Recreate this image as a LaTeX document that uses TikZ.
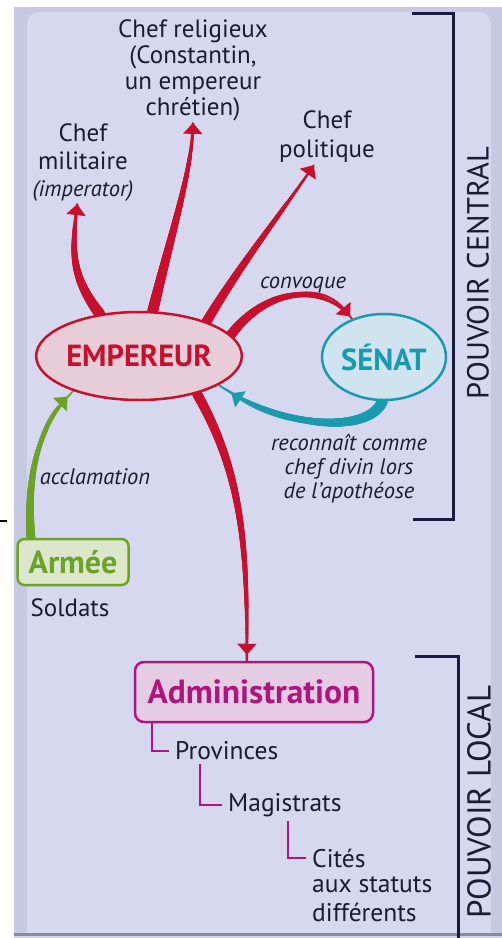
\documentclass[tikz,border=0pt]{standalone}
\usepackage{fontspec}
\setmainfont{PT Sans}
\usetikzlibrary{arrows.meta,decorations.markings,calc,shapes.geometric}

\definecolor{cardband}{HTML}{C6C9E2}
\definecolor{cardin}{HTML}{D5D8EE}
\definecolor{ink}{HTML}{1C1C30}
\definecolor{empred}{HTML}{C8102E}
\definecolor{empfill}{HTML}{E6CDD8}
\definecolor{senteal}{HTML}{1A9AAE}
\definecolor{senfill}{HTML}{CFE4EE}
\definecolor{armgreen}{HTML}{6BA229}
\definecolor{armfill}{HTML}{DCE6CB}
\definecolor{admmag}{HTML}{B0157E}
\definecolor{admfill}{HTML}{E4CCE3}
\definecolor{bracketcol}{HTML}{1A1A40}
\definecolor{edgedark}{HTML}{8A8AA0}
\definecolor{edgelight}{HTML}{D4D4DC}

\pgfdeclarelayer{cardlayer}
\pgfdeclarelayer{edgelayer}
\pgfsetlayers{cardlayer,edgelayer,main}

\tikzset{
  taper/.style n args={3}{postaction={decorate,decoration={markings,
    mark=between positions 0 and 1 step 0.7pt with {
      \pgfmathsetmacro\tprad{0.5*(#1-(#1-#2)*\pgfkeysvalueof{/pgf/decoration/mark info/distance from start}/\pgfdecoratedpathlength)}
      \fill[#3] (0pt,0pt) circle (\tprad pt);}}}},
  branch/.style={draw=#1, line width=2pt, -{Triangle[length=11pt,width=19pt,fill=#1]}},
  label/.style={text=ink, align=center, inner sep=2pt, font=\fontsize{25}{26}\selectfont},
  itlabel/.style={text=ink, align=center, inner sep=2pt, font=\fontsize{22.5}{24}\selectfont\itshape},
  treelabel/.style={text=ink, align=left, inner sep=6pt, font=\fontsize{25.5}{29}\selectfont},
  treeline/.style={draw=admmag, line width=2pt},
  bracketline/.style={draw=bracketcol, line width=3pt},
  sidelabel/.style={text=ink, rotate=90},
}

\begin{document}
\begin{tikzpicture}[x=1pt,y=-1pt]
\useasboundingbox (0,0) rectangle (502,938);

\begin{pgfonlayer}{cardlayer}
  \fill[white] (0,0) rectangle (502,938);
  \fill[cardband] (14,7) rectangle (502,935);
  \fill[cardin, rounded corners=12pt] (27,12) rectangle (491,960);
  \fill[edgedark] (14,933) rectangle (502,935.5);
  \fill[edgelight] (14,935.5) rectangle (502,938);
  \draw[black, line width=2pt] (0,521) -- (7,521);
\end{pgfonlayer}

% brackets and side labels
\draw[bracketline] (412,13) -- (453,13) -- (453,519) -- (413,519);
\draw[bracketline] (415,656) -- (458,656) -- (458,945);
\node[sidelabel, font=\fontsize{30.5}{32}\selectfont] (central) at (478,273) {POUVOIR CENTRAL};
\node[sidelabel, font=\fontsize{33}{34}\selectfont] (local) at (479,802) {POUVOIR LOCAL};

% main nodes
\node[ellipse, draw=empred, line width=2.5pt, fill=empfill, minimum width=198pt, minimum height=88pt, inner sep=0pt,
      text=empred, font=\fontsize{30.5}{31}\selectfont\bfseries] (emp) at (139,356) {EMPEREUR};
\node[ellipse, draw=senteal, line width=2.5pt, fill=senfill, minimum width=124pt, minimum height=86pt, inner sep=0pt,
      text=senteal, font=\fontsize{30.5}{31}\selectfont\bfseries] (sen) at (384,357) {SÉNAT};
\node[rectangle, rounded corners=7pt, draw=armgreen, line width=2.5pt, fill=armfill, minimum width=111pt, minimum height=46pt, inner sep=0pt,
      text=armgreen, font=\fontsize{32}{32}\selectfont\bfseries] (arm) at (73,562) {Armée};
\node[label] (sold) at (70,608) {Soldats};
\node[rectangle, rounded corners=9pt, draw=admmag, line width=2.5pt, fill=admfill, minimum width=238pt, minimum height=60pt, inner sep=0pt,
      text=admmag, font=\fontsize{33.5}{34}\selectfont\bfseries] (adm) at (254,692) {Administration};

% top labels
\node[label] (rel) at (193,70) {Chef religieux\\(Constantin,\\un empereur\\chrétien)};
\node[label, font=\fontsize{25}{27.5}\selectfont] (mil) at (83,163) {Chef\\militaire\\{\fontsize{22.5}{24}\selectfont\itshape (imperator)}};
\node[label, font=\fontsize{25}{29}\selectfont] (pol) at (327,137) {Chef\\politique};
\node[itlabel] (conv) at (303,285) {convoque};
\node[itlabel] (rec) at (349,469) {reconnaît comme\\chef divin lors\\de l’apothéose};
\node[itlabel] (accl) at (95,477) {acclamation};

% tree
\node[treelabel, anchor=west] (prov) at (169,751) {Provinces};
\node[treelabel, anchor=west] (mag) at (222,805) {Magistrats};
\node[treelabel, anchor=west] (cit) at (306,858) {Cités};
\node[treelabel, anchor=north west, inner sep=0pt] (citsub) at (312,876) {aux statuts\\différents};

\draw[treeline] ($(adm.south west)+(18,0)$) |- (prov.west);
\draw[treeline] ($(prov.south west)+(31,-2)$) |- (mag.west);
\draw[treeline] ($(mag.south west)+(66,-2)$) |- (cit.west);

% connectors
\begin{pgfonlayer}{edgelayer}
\draw[branch=empred, taper={11}{2.5}{empred}] (emp.133) .. controls (70,275) and (72,250) .. (mil.262);
\draw[branch=empred, taper={11}{2.5}{empred}] (emp.73) .. controls (175,220) and (192,170) .. (rel.south);
\draw[branch=empred, taper={10}{2}{empred}] (emp.27) .. controls (240,265) and (280,215) .. (pol.245);
\draw[branch=empred, taper={10}{2}{empred}, shorten >=3pt] (emp.13) .. controls (265,290) and (320,280) .. (sen.130);
\draw[branch=empred, taper={10}{2.5}{empred}, shorten >=6pt] (emp.327) .. controls (240,470) and (248,540) .. (adm.103);
\draw[branch=armgreen, taper={9}{2}{armgreen}, shorten >=8pt] (arm.150) .. controls (26,470) and (40,425) .. (emp.208);
\draw[branch=senteal, taper={11}{2}{senteal}, shorten >=15pt] (sen.268) .. controls (370,432) and (290,432) .. (emp.340);
\end{pgfonlayer}
\end{tikzpicture}
\end{document}
